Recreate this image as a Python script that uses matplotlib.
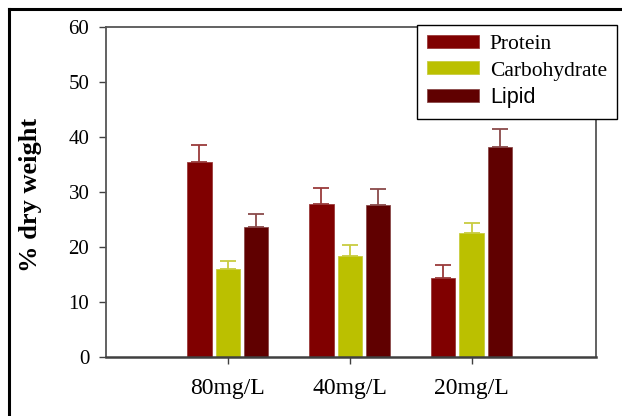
import matplotlib
matplotlib.use("Agg")
import matplotlib.pyplot as plt
from matplotlib.lines import Line2D
import numpy as np

# ------------------- DATA ------------------- #
groups = ["80mg/L", "40mg/L", "20mg/L"]
protein = [35.5, 27.9, 14.4]
protein_err = [3.0, 2.8, 2.4]
carbohydrate = [16.0, 18.3, 22.5]
carbohydrate_err = [1.4, 2.1, 1.8]
lipid = [23.6, 27.7, 38.2]
lipid_err = [2.4, 2.8, 3.3]

plt.rcParams['font.family'] = ['Liberation Serif', 'DejaVu Serif']

fig = plt.figure(figsize=(6.22, 4.16), dpi=100)
ax = fig.add_axes([0.1704, 0.1418, 0.7878, 0.7933])

x = np.arange(1, len(groups) + 1)
width = 0.2
offset = 0.233

series = [
    ("Protein", protein, protein_err, "#800000", "#9a3a3a"),
    ("Carbohydrate", carbohydrate, carbohydrate_err, "#bbc000", "#c8cc40"),
    ("Lipid", lipid, lipid_err, "#600000", "#8a4a4a"),
]

handles = []
for i, (name, vals, errs, col, ecol) in enumerate(series):
    pos = x + (i - 1) * offset
    b = ax.bar(pos, vals, width, color=col, edgecolor=ecol, linewidth=0.6, label=name, zorder=2)
    ax.errorbar(pos, vals, yerr=[np.zeros(len(errs)), errs], fmt="none",
                ecolor=ecol, elinewidth=1.3, capsize=6, capthick=1.3, zorder=1)
    handles.append(b)

ax.set_xlim(0, 4.02)
ax.set_ylim(0, 60)
ax.set_yticks([0, 10, 20, 30, 40, 50, 60])
ax.set_xticks(x)
ax.set_xticklabels(groups, fontsize=17)
ax.tick_params(axis='y', labelsize=15, length=5, width=1, pad=7, colors='#404040', labelcolor='black')
ax.tick_params(axis='x', length=5, width=1, pad=10, colors='#404040', labelcolor='black')
for s in ax.spines.values():
    s.set_color('#555555')
    s.set_linewidth(1.3)
ax.spines['bottom'].set_color('#404040')
ax.spines['bottom'].set_linewidth(1.8)

fig.text(31 / 622, 1 - 195 / 416, "% dry weight", rotation=90, ha="center", va="center",
         fontsize=19, fontweight="bold")

leg = fig.legend(handles=handles, labels=[s[0] for s in series], loc="upper left",
                 bbox_to_anchor=(417 / 622, 1 - 25 / 416), borderaxespad=0,
                 fontsize=15.5, handlelength=2.4, handleheight=0.56, handletextpad=0.5,
                 labelspacing=0.32, borderpad=0.48, fancybox=False, framealpha=1,
                 edgecolor="black")
leg.get_frame().set_linewidth(1.0)
leg.get_texts()[2].set_family(['Liberation Sans', 'DejaVu Sans'])

# outer frame of the picture
fig.add_artist(Line2D([9 / 622, 9 / 622], [0, 1 - 9 / 416], transform=fig.transFigure, color="black", lw=2.2))
fig.add_artist(Line2D([9 / 622, 1], [1 - 9 / 416, 1 - 9 / 416], transform=fig.transFigure, color="black", lw=2.2))

fig.savefig("out.png", dpi=100)
